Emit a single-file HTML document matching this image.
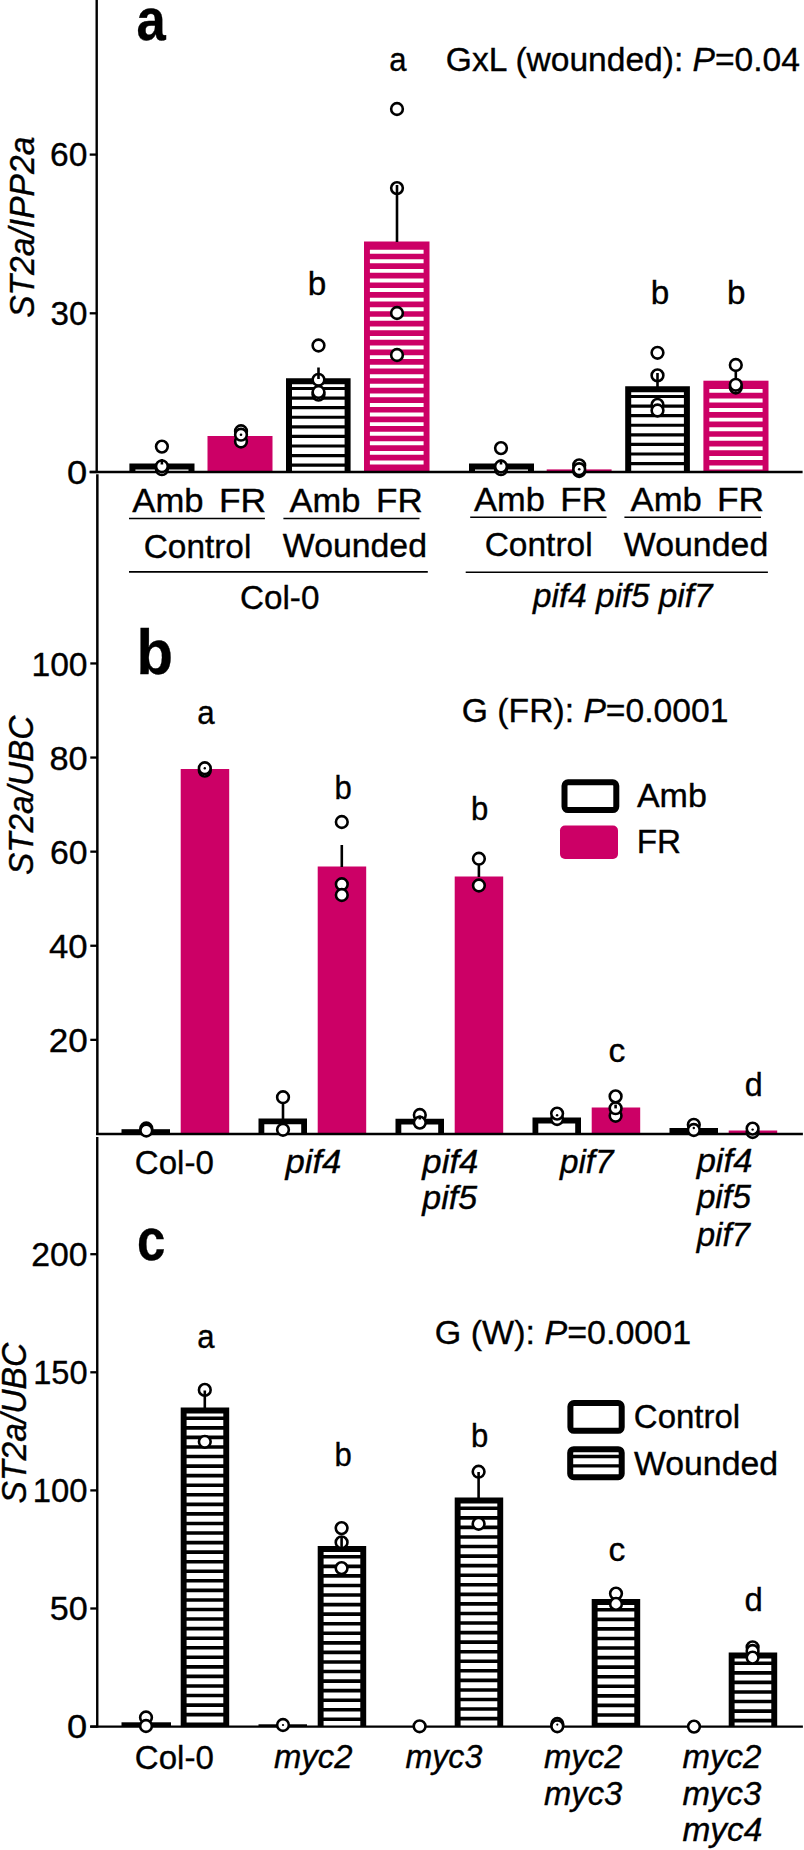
<!DOCTYPE html>
<html><head><meta charset="utf-8"><title>Figure</title>
<style>html,body{margin:0;padding:0;background:#fff}svg{display:block}text{font-family:"Liberation Sans",Arial,Helvetica,sans-serif;fill:#000;stroke:#000;stroke-width:0.35px}</style>
</head><body>
<svg width="804" height="1850" viewBox="0 0 804 1850">
<rect width="804" height="1850" fill="#fff"/>
<line x1="96.70" y1="0.00" x2="96.70" y2="473.10" stroke="#000" stroke-width="2.40"/>
<line x1="97.35" y1="474.30" x2="97.35" y2="1135.10" stroke="#000" stroke-width="2.50"/>
<line x1="97.25" y1="1137.00" x2="97.25" y2="1727.50" stroke="#000" stroke-width="2.40"/>
<path d="M132.40,472.00 V466.40 H191.50 V472.00" fill="#fff" stroke="#000" stroke-width="6.00" stroke-linejoin="miter"/>
<rect x="207.50" y="436.00" width="65.00" height="36.00" fill="#CC0066"/>
<path d="M289.00,472.00 V381.30 H347.60 V472.00" fill="#fff" stroke="#000" stroke-width="6.00" stroke-linejoin="miter"/>
<line x1="289.00" y1="388.50" x2="347.60" y2="388.50" stroke="#000" stroke-width="3.20"/>
<line x1="289.00" y1="398.08" x2="347.60" y2="398.08" stroke="#000" stroke-width="3.20"/>
<line x1="289.00" y1="407.66" x2="347.60" y2="407.66" stroke="#000" stroke-width="3.20"/>
<line x1="289.00" y1="417.24" x2="347.60" y2="417.24" stroke="#000" stroke-width="3.20"/>
<line x1="289.00" y1="426.82" x2="347.60" y2="426.82" stroke="#000" stroke-width="3.20"/>
<line x1="289.00" y1="436.40" x2="347.60" y2="436.40" stroke="#000" stroke-width="3.20"/>
<line x1="289.00" y1="445.98" x2="347.60" y2="445.98" stroke="#000" stroke-width="3.20"/>
<line x1="289.00" y1="455.56" x2="347.60" y2="455.56" stroke="#000" stroke-width="3.20"/>
<line x1="289.00" y1="465.14" x2="347.60" y2="465.14" stroke="#000" stroke-width="3.20"/>
<rect x="364.00" y="241.50" width="65.50" height="230.50" fill="#CC0066"/>
<line x1="369.90" y1="251.70" x2="423.60" y2="251.70" stroke="#fff" stroke-width="3.90"/>
<line x1="369.90" y1="261.28" x2="423.60" y2="261.28" stroke="#fff" stroke-width="3.90"/>
<line x1="369.90" y1="270.86" x2="423.60" y2="270.86" stroke="#fff" stroke-width="3.90"/>
<line x1="369.90" y1="280.44" x2="423.60" y2="280.44" stroke="#fff" stroke-width="3.90"/>
<line x1="369.90" y1="290.02" x2="423.60" y2="290.02" stroke="#fff" stroke-width="3.90"/>
<line x1="369.90" y1="299.60" x2="423.60" y2="299.60" stroke="#fff" stroke-width="3.90"/>
<line x1="369.90" y1="309.18" x2="423.60" y2="309.18" stroke="#fff" stroke-width="3.90"/>
<line x1="369.90" y1="318.76" x2="423.60" y2="318.76" stroke="#fff" stroke-width="3.90"/>
<line x1="369.90" y1="328.34" x2="423.60" y2="328.34" stroke="#fff" stroke-width="3.90"/>
<line x1="369.90" y1="337.92" x2="423.60" y2="337.92" stroke="#fff" stroke-width="3.90"/>
<line x1="369.90" y1="347.50" x2="423.60" y2="347.50" stroke="#fff" stroke-width="3.90"/>
<line x1="369.90" y1="357.08" x2="423.60" y2="357.08" stroke="#fff" stroke-width="3.90"/>
<line x1="369.90" y1="366.66" x2="423.60" y2="366.66" stroke="#fff" stroke-width="3.90"/>
<line x1="369.90" y1="376.24" x2="423.60" y2="376.24" stroke="#fff" stroke-width="3.90"/>
<line x1="369.90" y1="385.82" x2="423.60" y2="385.82" stroke="#fff" stroke-width="3.90"/>
<line x1="369.90" y1="395.40" x2="423.60" y2="395.40" stroke="#fff" stroke-width="3.90"/>
<line x1="369.90" y1="404.98" x2="423.60" y2="404.98" stroke="#fff" stroke-width="3.90"/>
<line x1="369.90" y1="414.56" x2="423.60" y2="414.56" stroke="#fff" stroke-width="3.90"/>
<line x1="369.90" y1="424.14" x2="423.60" y2="424.14" stroke="#fff" stroke-width="3.90"/>
<line x1="369.90" y1="433.72" x2="423.60" y2="433.72" stroke="#fff" stroke-width="3.90"/>
<line x1="369.90" y1="443.30" x2="423.60" y2="443.30" stroke="#fff" stroke-width="3.90"/>
<line x1="369.90" y1="452.88" x2="423.60" y2="452.88" stroke="#fff" stroke-width="3.90"/>
<line x1="369.90" y1="462.46" x2="423.60" y2="462.46" stroke="#fff" stroke-width="3.90"/>
<path d="M472.00,472.00 V466.40 H531.00 V472.00" fill="#fff" stroke="#000" stroke-width="6.00" stroke-linejoin="miter"/>
<rect x="546.70" y="469.40" width="64.90" height="2.60" fill="#CC0066"/>
<path d="M628.20,472.00 V389.30 H686.90 V472.00" fill="#fff" stroke="#000" stroke-width="6.00" stroke-linejoin="miter"/>
<line x1="628.20" y1="396.50" x2="686.90" y2="396.50" stroke="#000" stroke-width="3.20"/>
<line x1="628.20" y1="406.08" x2="686.90" y2="406.08" stroke="#000" stroke-width="3.20"/>
<line x1="628.20" y1="415.66" x2="686.90" y2="415.66" stroke="#000" stroke-width="3.20"/>
<line x1="628.20" y1="425.24" x2="686.90" y2="425.24" stroke="#000" stroke-width="3.20"/>
<line x1="628.20" y1="434.82" x2="686.90" y2="434.82" stroke="#000" stroke-width="3.20"/>
<line x1="628.20" y1="444.40" x2="686.90" y2="444.40" stroke="#000" stroke-width="3.20"/>
<line x1="628.20" y1="453.98" x2="686.90" y2="453.98" stroke="#000" stroke-width="3.20"/>
<line x1="628.20" y1="463.56" x2="686.90" y2="463.56" stroke="#000" stroke-width="3.20"/>
<rect x="703.40" y="380.70" width="65.10" height="91.30" fill="#CC0066"/>
<line x1="709.30" y1="390.90" x2="762.60" y2="390.90" stroke="#fff" stroke-width="3.90"/>
<line x1="709.30" y1="400.48" x2="762.60" y2="400.48" stroke="#fff" stroke-width="3.90"/>
<line x1="709.30" y1="410.06" x2="762.60" y2="410.06" stroke="#fff" stroke-width="3.90"/>
<line x1="709.30" y1="419.64" x2="762.60" y2="419.64" stroke="#fff" stroke-width="3.90"/>
<line x1="709.30" y1="429.22" x2="762.60" y2="429.22" stroke="#fff" stroke-width="3.90"/>
<line x1="709.30" y1="438.80" x2="762.60" y2="438.80" stroke="#fff" stroke-width="3.90"/>
<line x1="709.30" y1="448.38" x2="762.60" y2="448.38" stroke="#fff" stroke-width="3.90"/>
<line x1="709.30" y1="457.96" x2="762.60" y2="457.96" stroke="#fff" stroke-width="3.90"/>
<line x1="709.30" y1="467.54" x2="762.60" y2="467.54" stroke="#fff" stroke-width="3.90"/>
<line x1="89.70" y1="472.00" x2="802.60" y2="472.00" stroke="#000" stroke-width="2.30"/>
<line x1="89.70" y1="472.00" x2="97.30" y2="472.00" stroke="#000" stroke-width="2.30"/>
<line x1="89.70" y1="313.30" x2="97.30" y2="313.30" stroke="#000" stroke-width="2.30"/>
<line x1="89.70" y1="154.60" x2="97.30" y2="154.60" stroke="#000" stroke-width="2.30"/>
<text transform="translate(50.07,166.30) scale(1.0180,1.0000)" font-size="33.00" style="white-space:pre"><tspan>60</tspan></text>
<text transform="translate(50.51,325.00) scale(1.0057,1.0000)" font-size="33.00" style="white-space:pre"><tspan>30</tspan></text>
<text transform="translate(67.05,483.70) scale(1.0979,1.0000)" font-size="33.00" style="white-space:pre"><tspan>0</tspan></text>
<circle cx="161.90" cy="446.60" r="5.85" fill="#fff" stroke="#000" stroke-width="2.60"/>
<circle cx="161.90" cy="469.20" r="5.85" fill="#fff" stroke="#000" stroke-width="2.60"/>
<circle cx="161.90" cy="466.30" r="5.85" fill="#fff" stroke="#000" stroke-width="2.60"/>
<circle cx="241.00" cy="431.20" r="5.85" fill="#fff" stroke="#000" stroke-width="2.60"/>
<circle cx="241.00" cy="441.50" r="5.85" fill="#fff" stroke="#000" stroke-width="2.60"/>
<circle cx="241.00" cy="434.70" r="5.85" fill="#fff" stroke="#000" stroke-width="2.60"/>
<circle cx="318.50" cy="345.50" r="5.85" fill="#fff" stroke="#000" stroke-width="2.60"/>
<circle cx="318.50" cy="394.60" r="5.85" fill="#fff" stroke="#000" stroke-width="2.60"/>
<circle cx="318.50" cy="379.80" r="5.85" fill="#fff" stroke="#000" stroke-width="2.60"/>
<circle cx="318.50" cy="392.00" r="5.85" fill="#fff" stroke="#000" stroke-width="2.60"/>
<circle cx="397.00" cy="109.00" r="5.85" fill="#fff" stroke="#000" stroke-width="2.60"/>
<circle cx="397.00" cy="188.10" r="5.85" fill="#fff" stroke="#000" stroke-width="2.60"/>
<circle cx="397.00" cy="313.00" r="5.85" fill="#fff" stroke="#000" stroke-width="2.60"/>
<circle cx="397.00" cy="355.00" r="5.85" fill="#fff" stroke="#000" stroke-width="2.60"/>
<circle cx="501.00" cy="448.10" r="5.85" fill="#fff" stroke="#000" stroke-width="2.60"/>
<circle cx="501.00" cy="469.20" r="5.85" fill="#fff" stroke="#000" stroke-width="2.60"/>
<circle cx="501.00" cy="466.50" r="5.85" fill="#fff" stroke="#000" stroke-width="2.60"/>
<circle cx="579.20" cy="465.40" r="5.85" fill="#fff" stroke="#000" stroke-width="2.60"/>
<circle cx="579.20" cy="471.00" r="5.85" fill="#fff" stroke="#000" stroke-width="2.60"/>
<circle cx="579.20" cy="469.20" r="5.85" fill="#fff" stroke="#000" stroke-width="2.60"/>
<circle cx="657.50" cy="352.80" r="5.85" fill="#fff" stroke="#000" stroke-width="2.60"/>
<circle cx="657.50" cy="375.40" r="5.85" fill="#fff" stroke="#000" stroke-width="2.60"/>
<circle cx="657.50" cy="404.90" r="5.85" fill="#fff" stroke="#000" stroke-width="2.60"/>
<circle cx="657.50" cy="410.50" r="5.85" fill="#fff" stroke="#000" stroke-width="2.60"/>
<circle cx="735.80" cy="365.00" r="5.85" fill="#fff" stroke="#000" stroke-width="2.60"/>
<circle cx="735.80" cy="387.50" r="5.85" fill="#fff" stroke="#000" stroke-width="2.60"/>
<circle cx="735.80" cy="384.80" r="5.85" fill="#fff" stroke="#000" stroke-width="2.60"/>
<circle cx="241" cy="434.7" r="1.3"/>
<circle cx="579.2" cy="469.2" r="1.3"/>
<line x1="318.50" y1="379.00" x2="318.50" y2="367.50" stroke="#000" stroke-width="2.60"/>
<line x1="397.00" y1="242.00" x2="397.00" y2="185.00" stroke="#000" stroke-width="2.60"/>
<line x1="657.50" y1="387.00" x2="657.50" y2="373.00" stroke="#000" stroke-width="2.60"/>
<line x1="735.80" y1="378.50" x2="735.80" y2="371.50" stroke="#000" stroke-width="2.60"/>
<line x1="161.90" y1="464.50" x2="161.90" y2="459.00" stroke="#000" stroke-width="2.60"/>
<line x1="501.00" y1="464.50" x2="501.00" y2="459.50" stroke="#000" stroke-width="2.60"/>
<text transform="translate(136.42,39.80) scale(0.8764,1.0000)" font-size="60.00" style="white-space:pre"><tspan font-weight="bold">a</tspan></text>
<text transform="translate(389.18,71.30) scale(0.9415,1.0000)" font-size="33.00" style="white-space:pre"><tspan>a</tspan></text>
<text transform="translate(307.83,295.00) scale(1.0101,1.0000)" font-size="33.00" style="white-space:pre"><tspan>b</tspan></text>
<text transform="translate(650.83,304.00) scale(1.0101,1.0000)" font-size="33.00" style="white-space:pre"><tspan>b</tspan></text>
<text transform="translate(726.93,304.00) scale(1.0101,1.0000)" font-size="33.00" style="white-space:pre"><tspan>b</tspan></text>
<text transform="translate(445.82,71.40) scale(1.0169,1.0000)" font-size="33.00" style="white-space:pre"><tspan>GxL (wounded): </tspan><tspan font-style="italic">P</tspan><tspan>=0.04</tspan></text>
<text transform="translate(34.40,317.82) rotate(-90) scale(0.9601,1)" font-size="35.00" style="white-space:pre"><tspan font-style="italic">ST2a/IPP2a</tspan></text>
<text transform="translate(132.31,512.40) scale(1.0510,1.0000)" font-size="33.00" style="white-space:pre"><tspan>Amb</tspan></text>
<text transform="translate(218.98,512.40) scale(1.0735,1.0000)" font-size="33.00" style="white-space:pre"><tspan>FR</tspan></text>
<text transform="translate(289.61,512.40) scale(1.0450,1.0000)" font-size="33.00" style="white-space:pre"><tspan>Amb</tspan></text>
<text transform="translate(376.11,512.40) scale(1.0609,1.0000)" font-size="33.00" style="white-space:pre"><tspan>FR</tspan></text>
<text transform="translate(473.91,511.30) scale(1.0450,1.0000)" font-size="33.00" style="white-space:pre"><tspan>Amb</tspan></text>
<text transform="translate(560.20,511.30) scale(1.0660,1.0000)" font-size="33.00" style="white-space:pre"><tspan>FR</tspan></text>
<text transform="translate(630.61,511.30) scale(1.0510,1.0000)" font-size="33.00" style="white-space:pre"><tspan>Amb</tspan></text>
<text transform="translate(716.88,511.30) scale(1.0710,1.0000)" font-size="33.00" style="white-space:pre"><tspan>FR</tspan></text>
<line x1="129.00" y1="518.50" x2="264.90" y2="518.50" stroke="#000" stroke-width="1.50"/>
<line x1="283.40" y1="518.50" x2="419.50" y2="518.50" stroke="#000" stroke-width="1.50"/>
<line x1="470.20" y1="517.20" x2="606.60" y2="517.20" stroke="#000" stroke-width="1.50"/>
<line x1="624.40" y1="517.20" x2="761.00" y2="517.20" stroke="#000" stroke-width="1.50"/>
<text transform="translate(143.73,557.50) scale(1.0122,1.0000)" font-size="33.00" style="white-space:pre"><tspan>Control</tspan></text>
<text transform="translate(282.83,557.30) scale(1.0250,1.0000)" font-size="33.00" style="white-space:pre"><tspan>Wounded</tspan></text>
<text transform="translate(484.63,556.10) scale(1.0151,1.0000)" font-size="33.00" style="white-space:pre"><tspan>Control</tspan></text>
<text transform="translate(623.83,556.10) scale(1.0265,1.0000)" font-size="33.00" style="white-space:pre"><tspan>Wounded</tspan></text>
<line x1="129.00" y1="571.90" x2="427.80" y2="571.90" stroke="#000" stroke-width="1.60"/>
<line x1="465.70" y1="572.20" x2="767.90" y2="572.20" stroke="#000" stroke-width="1.60"/>
<text transform="translate(239.94,608.70) scale(1.0079,1.0000)" font-size="33.00" style="white-space:pre"><tspan>Col-0</tspan></text>
<text transform="translate(533.03,606.50) scale(1.0081,1.0000)" font-size="33.00" style="white-space:pre"><tspan font-style="italic">pif4 pif5 pif7</tspan></text>
<rect x="121.50" y="1129.20" width="48.50" height="4.75" fill="#000"/>
<path d="M261.40,1133.95 V1121.30 H304.10 V1133.95" fill="#fff" stroke="#000" stroke-width="5.80" stroke-linejoin="miter"/>
<path d="M398.40,1133.95 V1121.70 H441.10 V1133.95" fill="#fff" stroke="#000" stroke-width="5.80" stroke-linejoin="miter"/>
<path d="M535.40,1133.95 V1120.50 H578.10 V1133.95" fill="#fff" stroke="#000" stroke-width="5.80" stroke-linejoin="miter"/>
<path d="M672.40,1133.95 V1130.80 H715.10 V1133.95" fill="#fff" stroke="#000" stroke-width="5.80" stroke-linejoin="miter"/>
<rect x="180.70" y="769.00" width="48.50" height="364.95" fill="#CC0066"/>
<rect x="317.70" y="866.50" width="48.50" height="267.45" fill="#CC0066"/>
<rect x="454.70" y="876.50" width="48.50" height="257.45" fill="#CC0066"/>
<rect x="591.70" y="1107.50" width="48.50" height="26.45" fill="#CC0066"/>
<rect x="728.70" y="1130.50" width="48.50" height="3.45" fill="#CC0066"/>
<line x1="96.10" y1="1133.95" x2="802.90" y2="1133.95" stroke="#000" stroke-width="2.40"/>
<line x1="90.30" y1="1039.85" x2="97.30" y2="1039.85" stroke="#000" stroke-width="2.30"/>
<line x1="90.30" y1="945.75" x2="97.30" y2="945.75" stroke="#000" stroke-width="2.30"/>
<line x1="90.30" y1="851.65" x2="97.30" y2="851.65" stroke="#000" stroke-width="2.30"/>
<line x1="90.30" y1="757.55" x2="97.30" y2="757.55" stroke="#000" stroke-width="2.30"/>
<line x1="90.30" y1="663.45" x2="97.30" y2="663.45" stroke="#000" stroke-width="2.30"/>
<text transform="translate(31.48,675.50) scale(1.0192,1.0000)" font-size="33.00" style="white-space:pre"><tspan>100</tspan></text>
<text transform="translate(49.44,769.80) scale(1.0415,1.0000)" font-size="33.00" style="white-space:pre"><tspan>80</tspan></text>
<text transform="translate(50.06,863.80) scale(1.0239,1.0000)" font-size="33.00" style="white-space:pre"><tspan>60</tspan></text>
<text transform="translate(49.02,958.00) scale(1.0534,1.0000)" font-size="33.00" style="white-space:pre"><tspan>40</tspan></text>
<text transform="translate(48.64,1052.10) scale(1.0639,1.0000)" font-size="33.00" style="white-space:pre"><tspan>20</tspan></text>
<text transform="translate(136.41,674.20) scale(0.9568,1.0000)" font-size="62.50" style="white-space:pre"><tspan font-weight="bold">b</tspan></text>
<text transform="translate(32.90,875.12) rotate(-90) scale(0.9537,1)" font-size="35.00" style="white-space:pre"><tspan font-style="italic">ST2a/UBC</tspan></text>
<text transform="translate(461.82,721.60) scale(1.0208,1.0000)" font-size="33.00" style="white-space:pre"><tspan>G (FR): </tspan><tspan font-style="italic">P</tspan><tspan>=0.0001</tspan></text>
<rect x="564.50" y="782.30" width="51.80" height="27.80" fill="#fff" stroke="#000" stroke-width="6.00" rx="3.50"/>
<rect x="560.00" y="825.50" width="58.00" height="33.50" fill="#CC0066" rx="5.00"/>
<text transform="translate(636.91,807.00) scale(1.0314,1.0000)" font-size="33.00" style="white-space:pre"><tspan>Amb</tspan></text>
<text transform="translate(636.76,852.50) scale(1.0080,1.0000)" font-size="33.00" style="white-space:pre"><tspan>FR</tspan></text>
<text transform="translate(197.17,723.60) scale(0.9473,1.0000)" font-size="33.00" style="white-space:pre"><tspan>a</tspan></text>
<text transform="translate(334.48,798.50) scale(0.9428,1.0000)" font-size="33.00" style="white-space:pre"><tspan>b</tspan></text>
<text transform="translate(470.98,819.50) scale(0.9428,1.0000)" font-size="33.00" style="white-space:pre"><tspan>b</tspan></text>
<text transform="translate(608.57,1061.50) scale(1.0218,1.0000)" font-size="33.00" style="white-space:pre"><tspan>c</tspan></text>
<text transform="translate(744.63,1096.00) scale(0.9764,1.0000)" font-size="33.00" style="white-space:pre"><tspan>d</tspan></text>
<text transform="translate(134.85,1173.50) scale(1.0013,1.0000)" font-size="33.00" style="white-space:pre"><tspan>Col-0</tspan></text>
<text transform="translate(285.47,1173.00) scale(1.0509,1.0000)" font-size="33.00" style="white-space:pre"><tspan font-style="italic">pif4</tspan></text>
<text transform="translate(422.37,1172.70) scale(1.0528,1.0000)" font-size="33.00" style="white-space:pre"><tspan font-style="italic">pif4</tspan></text>
<text transform="translate(422.35,1208.70) scale(1.0271,1.0000)" font-size="33.00" style="white-space:pre"><tspan font-style="italic">pif5</tspan></text>
<text transform="translate(559.93,1172.70) scale(1.0086,1.0000)" font-size="33.00" style="white-space:pre"><tspan font-style="italic">pif7</tspan></text>
<text transform="translate(696.66,1172.40) scale(1.0471,1.0000)" font-size="33.00" style="white-space:pre"><tspan font-style="italic">pif4</tspan></text>
<text transform="translate(696.64,1208.40) scale(1.0215,1.0000)" font-size="33.00" style="white-space:pre"><tspan font-style="italic">pif5</tspan></text>
<text transform="translate(696.63,1246.00) scale(1.0031,1.0000)" font-size="33.00" style="white-space:pre"><tspan font-style="italic">pif7</tspan></text>
<path d="M183.65,1726.60 V1410.45 H226.25 V1726.60" fill="#fff" stroke="#000" stroke-width="5.90" stroke-linejoin="miter"/>
<line x1="183.65" y1="1418.30" x2="226.25" y2="1418.30" stroke="#000" stroke-width="3.60"/>
<line x1="183.65" y1="1427.86" x2="226.25" y2="1427.86" stroke="#000" stroke-width="3.60"/>
<line x1="183.65" y1="1437.42" x2="226.25" y2="1437.42" stroke="#000" stroke-width="3.60"/>
<line x1="183.65" y1="1446.98" x2="226.25" y2="1446.98" stroke="#000" stroke-width="3.60"/>
<line x1="183.65" y1="1456.54" x2="226.25" y2="1456.54" stroke="#000" stroke-width="3.60"/>
<line x1="183.65" y1="1466.10" x2="226.25" y2="1466.10" stroke="#000" stroke-width="3.60"/>
<line x1="183.65" y1="1475.66" x2="226.25" y2="1475.66" stroke="#000" stroke-width="3.60"/>
<line x1="183.65" y1="1485.22" x2="226.25" y2="1485.22" stroke="#000" stroke-width="3.60"/>
<line x1="183.65" y1="1494.78" x2="226.25" y2="1494.78" stroke="#000" stroke-width="3.60"/>
<line x1="183.65" y1="1504.34" x2="226.25" y2="1504.34" stroke="#000" stroke-width="3.60"/>
<line x1="183.65" y1="1513.90" x2="226.25" y2="1513.90" stroke="#000" stroke-width="3.60"/>
<line x1="183.65" y1="1523.46" x2="226.25" y2="1523.46" stroke="#000" stroke-width="3.60"/>
<line x1="183.65" y1="1533.02" x2="226.25" y2="1533.02" stroke="#000" stroke-width="3.60"/>
<line x1="183.65" y1="1542.58" x2="226.25" y2="1542.58" stroke="#000" stroke-width="3.60"/>
<line x1="183.65" y1="1552.14" x2="226.25" y2="1552.14" stroke="#000" stroke-width="3.60"/>
<line x1="183.65" y1="1561.70" x2="226.25" y2="1561.70" stroke="#000" stroke-width="3.60"/>
<line x1="183.65" y1="1571.26" x2="226.25" y2="1571.26" stroke="#000" stroke-width="3.60"/>
<line x1="183.65" y1="1580.82" x2="226.25" y2="1580.82" stroke="#000" stroke-width="3.60"/>
<line x1="183.65" y1="1590.38" x2="226.25" y2="1590.38" stroke="#000" stroke-width="3.60"/>
<line x1="183.65" y1="1599.94" x2="226.25" y2="1599.94" stroke="#000" stroke-width="3.60"/>
<line x1="183.65" y1="1609.50" x2="226.25" y2="1609.50" stroke="#000" stroke-width="3.60"/>
<line x1="183.65" y1="1619.06" x2="226.25" y2="1619.06" stroke="#000" stroke-width="3.60"/>
<line x1="183.65" y1="1628.62" x2="226.25" y2="1628.62" stroke="#000" stroke-width="3.60"/>
<line x1="183.65" y1="1638.18" x2="226.25" y2="1638.18" stroke="#000" stroke-width="3.60"/>
<line x1="183.65" y1="1647.74" x2="226.25" y2="1647.74" stroke="#000" stroke-width="3.60"/>
<line x1="183.65" y1="1657.30" x2="226.25" y2="1657.30" stroke="#000" stroke-width="3.60"/>
<line x1="183.65" y1="1666.86" x2="226.25" y2="1666.86" stroke="#000" stroke-width="3.60"/>
<line x1="183.65" y1="1676.42" x2="226.25" y2="1676.42" stroke="#000" stroke-width="3.60"/>
<line x1="183.65" y1="1685.98" x2="226.25" y2="1685.98" stroke="#000" stroke-width="3.60"/>
<line x1="183.65" y1="1695.54" x2="226.25" y2="1695.54" stroke="#000" stroke-width="3.60"/>
<line x1="183.65" y1="1705.10" x2="226.25" y2="1705.10" stroke="#000" stroke-width="3.60"/>
<line x1="183.65" y1="1714.66" x2="226.25" y2="1714.66" stroke="#000" stroke-width="3.60"/>
<line x1="183.65" y1="1724.22" x2="226.25" y2="1724.22" stroke="#000" stroke-width="3.60"/>
<path d="M320.65,1726.60 V1548.95 H363.25 V1726.60" fill="#fff" stroke="#000" stroke-width="5.90" stroke-linejoin="miter"/>
<line x1="320.65" y1="1556.80" x2="363.25" y2="1556.80" stroke="#000" stroke-width="3.60"/>
<line x1="320.65" y1="1566.36" x2="363.25" y2="1566.36" stroke="#000" stroke-width="3.60"/>
<line x1="320.65" y1="1575.92" x2="363.25" y2="1575.92" stroke="#000" stroke-width="3.60"/>
<line x1="320.65" y1="1585.48" x2="363.25" y2="1585.48" stroke="#000" stroke-width="3.60"/>
<line x1="320.65" y1="1595.04" x2="363.25" y2="1595.04" stroke="#000" stroke-width="3.60"/>
<line x1="320.65" y1="1604.60" x2="363.25" y2="1604.60" stroke="#000" stroke-width="3.60"/>
<line x1="320.65" y1="1614.16" x2="363.25" y2="1614.16" stroke="#000" stroke-width="3.60"/>
<line x1="320.65" y1="1623.72" x2="363.25" y2="1623.72" stroke="#000" stroke-width="3.60"/>
<line x1="320.65" y1="1633.28" x2="363.25" y2="1633.28" stroke="#000" stroke-width="3.60"/>
<line x1="320.65" y1="1642.84" x2="363.25" y2="1642.84" stroke="#000" stroke-width="3.60"/>
<line x1="320.65" y1="1652.40" x2="363.25" y2="1652.40" stroke="#000" stroke-width="3.60"/>
<line x1="320.65" y1="1661.96" x2="363.25" y2="1661.96" stroke="#000" stroke-width="3.60"/>
<line x1="320.65" y1="1671.52" x2="363.25" y2="1671.52" stroke="#000" stroke-width="3.60"/>
<line x1="320.65" y1="1681.08" x2="363.25" y2="1681.08" stroke="#000" stroke-width="3.60"/>
<line x1="320.65" y1="1690.64" x2="363.25" y2="1690.64" stroke="#000" stroke-width="3.60"/>
<line x1="320.65" y1="1700.20" x2="363.25" y2="1700.20" stroke="#000" stroke-width="3.60"/>
<line x1="320.65" y1="1709.76" x2="363.25" y2="1709.76" stroke="#000" stroke-width="3.60"/>
<line x1="320.65" y1="1719.32" x2="363.25" y2="1719.32" stroke="#000" stroke-width="3.60"/>
<path d="M457.65,1726.60 V1500.45 H500.25 V1726.60" fill="#fff" stroke="#000" stroke-width="5.90" stroke-linejoin="miter"/>
<line x1="457.65" y1="1508.30" x2="500.25" y2="1508.30" stroke="#000" stroke-width="3.60"/>
<line x1="457.65" y1="1517.86" x2="500.25" y2="1517.86" stroke="#000" stroke-width="3.60"/>
<line x1="457.65" y1="1527.42" x2="500.25" y2="1527.42" stroke="#000" stroke-width="3.60"/>
<line x1="457.65" y1="1536.98" x2="500.25" y2="1536.98" stroke="#000" stroke-width="3.60"/>
<line x1="457.65" y1="1546.54" x2="500.25" y2="1546.54" stroke="#000" stroke-width="3.60"/>
<line x1="457.65" y1="1556.10" x2="500.25" y2="1556.10" stroke="#000" stroke-width="3.60"/>
<line x1="457.65" y1="1565.66" x2="500.25" y2="1565.66" stroke="#000" stroke-width="3.60"/>
<line x1="457.65" y1="1575.22" x2="500.25" y2="1575.22" stroke="#000" stroke-width="3.60"/>
<line x1="457.65" y1="1584.78" x2="500.25" y2="1584.78" stroke="#000" stroke-width="3.60"/>
<line x1="457.65" y1="1594.34" x2="500.25" y2="1594.34" stroke="#000" stroke-width="3.60"/>
<line x1="457.65" y1="1603.90" x2="500.25" y2="1603.90" stroke="#000" stroke-width="3.60"/>
<line x1="457.65" y1="1613.46" x2="500.25" y2="1613.46" stroke="#000" stroke-width="3.60"/>
<line x1="457.65" y1="1623.02" x2="500.25" y2="1623.02" stroke="#000" stroke-width="3.60"/>
<line x1="457.65" y1="1632.58" x2="500.25" y2="1632.58" stroke="#000" stroke-width="3.60"/>
<line x1="457.65" y1="1642.14" x2="500.25" y2="1642.14" stroke="#000" stroke-width="3.60"/>
<line x1="457.65" y1="1651.70" x2="500.25" y2="1651.70" stroke="#000" stroke-width="3.60"/>
<line x1="457.65" y1="1661.26" x2="500.25" y2="1661.26" stroke="#000" stroke-width="3.60"/>
<line x1="457.65" y1="1670.82" x2="500.25" y2="1670.82" stroke="#000" stroke-width="3.60"/>
<line x1="457.65" y1="1680.38" x2="500.25" y2="1680.38" stroke="#000" stroke-width="3.60"/>
<line x1="457.65" y1="1689.94" x2="500.25" y2="1689.94" stroke="#000" stroke-width="3.60"/>
<line x1="457.65" y1="1699.50" x2="500.25" y2="1699.50" stroke="#000" stroke-width="3.60"/>
<line x1="457.65" y1="1709.06" x2="500.25" y2="1709.06" stroke="#000" stroke-width="3.60"/>
<line x1="457.65" y1="1718.62" x2="500.25" y2="1718.62" stroke="#000" stroke-width="3.60"/>
<path d="M594.65,1726.60 V1601.95 H637.25 V1726.60" fill="#fff" stroke="#000" stroke-width="5.90" stroke-linejoin="miter"/>
<line x1="594.65" y1="1609.80" x2="637.25" y2="1609.80" stroke="#000" stroke-width="3.60"/>
<line x1="594.65" y1="1619.36" x2="637.25" y2="1619.36" stroke="#000" stroke-width="3.60"/>
<line x1="594.65" y1="1628.92" x2="637.25" y2="1628.92" stroke="#000" stroke-width="3.60"/>
<line x1="594.65" y1="1638.48" x2="637.25" y2="1638.48" stroke="#000" stroke-width="3.60"/>
<line x1="594.65" y1="1648.04" x2="637.25" y2="1648.04" stroke="#000" stroke-width="3.60"/>
<line x1="594.65" y1="1657.60" x2="637.25" y2="1657.60" stroke="#000" stroke-width="3.60"/>
<line x1="594.65" y1="1667.16" x2="637.25" y2="1667.16" stroke="#000" stroke-width="3.60"/>
<line x1="594.65" y1="1676.72" x2="637.25" y2="1676.72" stroke="#000" stroke-width="3.60"/>
<line x1="594.65" y1="1686.28" x2="637.25" y2="1686.28" stroke="#000" stroke-width="3.60"/>
<line x1="594.65" y1="1695.84" x2="637.25" y2="1695.84" stroke="#000" stroke-width="3.60"/>
<line x1="594.65" y1="1705.40" x2="637.25" y2="1705.40" stroke="#000" stroke-width="3.60"/>
<line x1="594.65" y1="1714.96" x2="637.25" y2="1714.96" stroke="#000" stroke-width="3.60"/>
<line x1="594.65" y1="1724.52" x2="637.25" y2="1724.52" stroke="#000" stroke-width="3.60"/>
<path d="M731.65,1726.60 V1655.45 H774.25 V1726.60" fill="#fff" stroke="#000" stroke-width="5.90" stroke-linejoin="miter"/>
<line x1="731.65" y1="1663.30" x2="774.25" y2="1663.30" stroke="#000" stroke-width="3.60"/>
<line x1="731.65" y1="1672.86" x2="774.25" y2="1672.86" stroke="#000" stroke-width="3.60"/>
<line x1="731.65" y1="1682.42" x2="774.25" y2="1682.42" stroke="#000" stroke-width="3.60"/>
<line x1="731.65" y1="1691.98" x2="774.25" y2="1691.98" stroke="#000" stroke-width="3.60"/>
<line x1="731.65" y1="1701.54" x2="774.25" y2="1701.54" stroke="#000" stroke-width="3.60"/>
<line x1="731.65" y1="1711.10" x2="774.25" y2="1711.10" stroke="#000" stroke-width="3.60"/>
<line x1="731.65" y1="1720.66" x2="774.25" y2="1720.66" stroke="#000" stroke-width="3.60"/>
<rect x="121.50" y="1722.30" width="49.50" height="3.70" fill="#000"/>
<rect x="258.50" y="1724.30" width="48.50" height="1.70" fill="#000"/>
<line x1="90.10" y1="1726.60" x2="802.90" y2="1726.60" stroke="#000" stroke-width="2.40"/>
<line x1="90.30" y1="1726.60" x2="97.30" y2="1726.60" stroke="#000" stroke-width="2.30"/>
<line x1="90.30" y1="1608.50" x2="97.30" y2="1608.50" stroke="#000" stroke-width="2.30"/>
<line x1="90.30" y1="1490.40" x2="97.30" y2="1490.40" stroke="#000" stroke-width="2.30"/>
<line x1="90.30" y1="1372.30" x2="97.30" y2="1372.30" stroke="#000" stroke-width="2.30"/>
<line x1="90.30" y1="1254.20" x2="97.30" y2="1254.20" stroke="#000" stroke-width="2.30"/>
<text transform="translate(31.21,1265.70) scale(1.0242,1.0000)" font-size="33.00" style="white-space:pre"><tspan>200</tspan></text>
<text transform="translate(33.15,1383.60) scale(0.9880,1.0000)" font-size="33.00" style="white-space:pre"><tspan>150</tspan></text>
<text transform="translate(32.84,1501.90) scale(0.9939,1.0000)" font-size="33.00" style="white-space:pre"><tspan>100</tspan></text>
<text transform="translate(49.63,1620.00) scale(1.0360,1.0000)" font-size="33.00" style="white-space:pre"><tspan>50</tspan></text>
<text transform="translate(67.05,1737.60) scale(1.0979,1.0000)" font-size="33.00" style="white-space:pre"><tspan>0</tspan></text>
<text transform="translate(136.97,1260.40) scale(0.8479,1.0000)" font-size="60.00" style="white-space:pre"><tspan font-weight="bold">c</tspan></text>
<text transform="translate(26.00,1503.42) rotate(-90) scale(0.9603,1)" font-size="35.00" style="white-space:pre"><tspan font-style="italic">ST2a/UBC</tspan></text>
<text transform="translate(434.80,1344.00) scale(1.0315,1.0000)" font-size="33.00" style="white-space:pre"><tspan>G (W): </tspan><tspan font-style="italic">P</tspan><tspan>=0.0001</tspan></text>
<rect x="570.40" y="1403.00" width="51.30" height="27.80" fill="#fff" stroke="#000" stroke-width="6.00" rx="3.50"/>
<rect x="570.20" y="1449.20" width="51.50" height="28.00" fill="#fff" stroke="#000" stroke-width="6.00" rx="3.50"/>
<line x1="571.00" y1="1456.50" x2="622.00" y2="1456.50" stroke="#000" stroke-width="3.40"/>
<line x1="571.00" y1="1465.90" x2="622.00" y2="1465.90" stroke="#000" stroke-width="3.40"/>
<text transform="translate(633.85,1428.00) scale(0.9995,1.0000)" font-size="33.00" style="white-space:pre"><tspan>Control</tspan></text>
<text transform="translate(633.93,1474.60) scale(1.0250,1.0000)" font-size="33.00" style="white-space:pre"><tspan>Wounded</tspan></text>
<text transform="translate(197.18,1347.50) scale(0.9415,1.0000)" font-size="33.00" style="white-space:pre"><tspan>a</tspan></text>
<text transform="translate(334.48,1465.50) scale(0.9428,1.0000)" font-size="33.00" style="white-space:pre"><tspan>b</tspan></text>
<text transform="translate(470.98,1446.60) scale(0.9428,1.0000)" font-size="33.00" style="white-space:pre"><tspan>b</tspan></text>
<text transform="translate(608.57,1560.50) scale(1.0218,1.0000)" font-size="33.00" style="white-space:pre"><tspan>c</tspan></text>
<text transform="translate(744.60,1610.60) scale(0.9966,1.0000)" font-size="33.00" style="white-space:pre"><tspan>d</tspan></text>
<text transform="translate(134.85,1768.50) scale(1.0013,1.0000)" font-size="33.00" style="white-space:pre"><tspan>Col-0</tspan></text>
<text transform="translate(273.92,1768.20) scale(0.9962,1.0000)" font-size="33.00" style="white-space:pre"><tspan font-style="italic">myc2</tspan></text>
<text transform="translate(405.44,1768.20) scale(0.9748,1.0000)" font-size="33.00" style="white-space:pre"><tspan font-style="italic">myc3</tspan></text>
<text transform="translate(543.92,1768.20) scale(0.9962,1.0000)" font-size="33.00" style="white-space:pre"><tspan font-style="italic">myc2</tspan></text>
<text transform="translate(543.93,1805.00) scale(0.9941,1.0000)" font-size="33.00" style="white-space:pre"><tspan font-style="italic">myc3</tspan></text>
<text transform="translate(682.42,1768.20) scale(1.0026,1.0000)" font-size="33.00" style="white-space:pre"><tspan font-style="italic">myc2</tspan></text>
<text transform="translate(682.42,1805.00) scale(1.0005,1.0000)" font-size="33.00" style="white-space:pre"><tspan font-style="italic">myc3</tspan></text>
<text transform="translate(682.41,1840.60) scale(1.0133,1.0000)" font-size="33.00" style="white-space:pre"><tspan font-style="italic">myc4</tspan></text>
<circle cx="146.30" cy="1128.50" r="5.85" fill="#fff" stroke="#000" stroke-width="2.60"/>
<circle cx="146.30" cy="1130.50" r="5.85" fill="#fff" stroke="#000" stroke-width="2.60"/>
<circle cx="204.80" cy="770.60" r="5.85" fill="#fff" stroke="#000" stroke-width="2.60"/>
<circle cx="204.80" cy="768.20" r="5.85" fill="#fff" stroke="#000" stroke-width="2.60"/>
<circle cx="283.00" cy="1097.20" r="5.85" fill="#fff" stroke="#000" stroke-width="2.60"/>
<circle cx="283.00" cy="1129.80" r="5.85" fill="#fff" stroke="#000" stroke-width="2.60"/>
<circle cx="341.80" cy="822.00" r="5.85" fill="#fff" stroke="#000" stroke-width="2.60"/>
<circle cx="341.80" cy="884.20" r="5.85" fill="#fff" stroke="#000" stroke-width="2.60"/>
<circle cx="341.80" cy="895.00" r="5.85" fill="#fff" stroke="#000" stroke-width="2.60"/>
<circle cx="419.80" cy="1115.00" r="5.85" fill="#fff" stroke="#000" stroke-width="2.60"/>
<circle cx="419.80" cy="1122.60" r="5.85" fill="#fff" stroke="#000" stroke-width="2.60"/>
<circle cx="478.90" cy="858.70" r="5.85" fill="#fff" stroke="#000" stroke-width="2.60"/>
<circle cx="478.90" cy="885.50" r="5.85" fill="#fff" stroke="#000" stroke-width="2.60"/>
<circle cx="557.10" cy="1119.00" r="5.85" fill="#fff" stroke="#000" stroke-width="2.60"/>
<circle cx="557.10" cy="1113.60" r="5.85" fill="#fff" stroke="#000" stroke-width="2.60"/>
<circle cx="615.60" cy="1115.80" r="5.85" fill="#fff" stroke="#000" stroke-width="2.60"/>
<circle cx="615.60" cy="1108.20" r="5.85" fill="#fff" stroke="#000" stroke-width="2.60"/>
<circle cx="615.60" cy="1096.40" r="5.85" fill="#fff" stroke="#000" stroke-width="2.60"/>
<circle cx="693.80" cy="1124.80" r="5.85" fill="#fff" stroke="#000" stroke-width="2.60"/>
<circle cx="693.80" cy="1130.00" r="5.85" fill="#fff" stroke="#000" stroke-width="2.60"/>
<circle cx="752.60" cy="1132.00" r="5.85" fill="#fff" stroke="#000" stroke-width="2.60"/>
<circle cx="752.60" cy="1128.60" r="5.85" fill="#fff" stroke="#000" stroke-width="2.60"/>
<circle cx="204.8" cy="768.2" r="1.2"/>
<circle cx="557.1" cy="1115.3" r="1.2"/>
<circle cx="693.8" cy="1128.0" r="1.2"/>
<circle cx="752.6" cy="1129.6" r="1.2"/>
<line x1="283.00" y1="1119.00" x2="283.00" y2="1103.00" stroke="#000" stroke-width="2.60"/>
<line x1="341.80" y1="867.00" x2="341.80" y2="845.00" stroke="#000" stroke-width="2.60"/>
<line x1="478.90" y1="877.00" x2="478.90" y2="864.50" stroke="#000" stroke-width="2.60"/>
<line x1="419.80" y1="1119.50" x2="419.80" y2="1115.50" stroke="#000" stroke-width="2.60"/>
<line x1="615.60" y1="1108.40" x2="615.60" y2="1104.60" stroke="#000" stroke-width="2.60"/>
<circle cx="146.00" cy="1717.50" r="5.85" fill="#fff" stroke="#000" stroke-width="2.60"/>
<circle cx="146.00" cy="1726.00" r="5.85" fill="#fff" stroke="#000" stroke-width="2.60"/>
<circle cx="204.80" cy="1389.90" r="5.85" fill="#fff" stroke="#000" stroke-width="2.60"/>
<circle cx="204.80" cy="1441.80" r="5.85" fill="#fff" stroke="#000" stroke-width="2.60"/>
<circle cx="283.00" cy="1725.00" r="5.85" fill="#fff" stroke="#000" stroke-width="2.60"/>
<circle cx="341.60" cy="1528.10" r="5.85" fill="#fff" stroke="#000" stroke-width="2.60"/>
<circle cx="341.60" cy="1542.40" r="5.85" fill="#fff" stroke="#000" stroke-width="2.60"/>
<circle cx="341.60" cy="1568.10" r="5.85" fill="#fff" stroke="#000" stroke-width="2.60"/>
<circle cx="419.60" cy="1726.30" r="5.85" fill="#fff" stroke="#000" stroke-width="2.60"/>
<circle cx="478.60" cy="1471.70" r="5.85" fill="#fff" stroke="#000" stroke-width="2.60"/>
<circle cx="478.60" cy="1523.80" r="5.85" fill="#fff" stroke="#000" stroke-width="2.60"/>
<circle cx="557.30" cy="1724.00" r="5.85" fill="#fff" stroke="#000" stroke-width="2.60"/>
<circle cx="557.30" cy="1726.30" r="5.85" fill="#fff" stroke="#000" stroke-width="2.60"/>
<circle cx="616.00" cy="1593.60" r="5.85" fill="#fff" stroke="#000" stroke-width="2.60"/>
<circle cx="616.00" cy="1603.90" r="5.85" fill="#fff" stroke="#000" stroke-width="2.60"/>
<circle cx="694.00" cy="1726.60" r="5.85" fill="#fff" stroke="#000" stroke-width="2.60"/>
<circle cx="752.60" cy="1647.30" r="5.85" fill="#fff" stroke="#000" stroke-width="2.60"/>
<circle cx="752.60" cy="1651.00" r="5.85" fill="#fff" stroke="#000" stroke-width="2.60"/>
<circle cx="752.60" cy="1657.60" r="5.85" fill="#fff" stroke="#000" stroke-width="2.60"/>
<circle cx="557.3" cy="1724.6" r="1.1"/>
<circle cx="283" cy="1725" r="1.1"/>
<line x1="204.80" y1="1409.00" x2="204.80" y2="1390.50" stroke="#000" stroke-width="2.60"/>
<line x1="341.60" y1="1547.00" x2="341.60" y2="1536.50" stroke="#000" stroke-width="2.60"/>
<line x1="478.60" y1="1499.00" x2="478.60" y2="1472.00" stroke="#000" stroke-width="2.60"/>
</svg>
</body></html>
